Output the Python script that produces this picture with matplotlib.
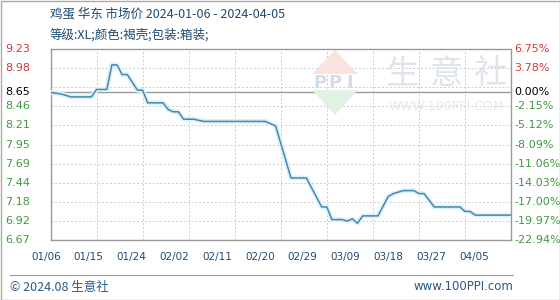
import matplotlib
matplotlib.use("Agg")
import matplotlib.pyplot as plt
import matplotlib.transforms as mtransforms
from matplotlib.patches import Polygon, Rectangle
import numpy as np
import pandas as pd

# price data (egg, East China)
start = pd.Timestamp("2024-01-06")
day_offsets = [0, 2, 3, 4, 8, 9, 11, 12, 13, 14, 15, 17, 18, 19, 22, 23, 24, 25,
               26, 28, 30, 42, 44, 47, 50, 53, 54, 55, 57, 58, 59, 60, 61, 64,
               66, 67, 69, 71, 72, 73, 75, 80, 81, 82, 83, 90]
prices = [8.65, 8.63, 8.61, 8.59, 8.59, 8.69, 8.69, 9.02, 9.02, 8.89, 8.89, 8.68,
          8.68, 8.51, 8.51, 8.42, 8.39, 8.39, 8.29, 8.29, 8.26, 8.26, 8.20, 7.50,
          7.50, 7.11, 7.11, 6.94, 6.94, 6.92, 6.95, 6.89, 6.99, 6.99, 7.25, 7.29,
          7.33, 7.33, 7.29, 7.29, 7.11, 7.11, 7.05, 7.05, 7.00, 7.00]
base_price = 8.65
pct_top = 6.75
pct_bottom = -22.94
x_labels = ["01/06", "01/15", "01/24", "02/02", "02/11", "02/20",
            "02/29", "03/09", "03/18", "03/27", "04/05"]

title1 = "鸡蛋 华东 市场价 2024-01-06 - 2024-04-05"
title2 = "等级:XL;颜色:褐壳;包装:箱装;"

plt.rcParams['font.family'] = ['DejaVu Sans', 'Noto Sans CJK SC']
cjk = ['Noto Sans CJK SC', 'DejaVu Sans']

W, H = 560, 300
fig = plt.figure(figsize=(W / 100, H / 100), dpi=100)
fig.patch.set_facecolor('white')

ax = fig.add_axes([50.5 / W, 1 - 240 / H, 460.5 / W, 191 / H])

ymin = base_price * (1 + pct_bottom / 100)
ymax = base_price * (1 + pct_top / 100)
grid_vals = np.linspace(ymin, ymax, 11)
grid_pcts = np.linspace(pct_bottom, pct_top, 11)

ax.set_xlim(0, 90)
ax.set_ylim(ymin, ymax)

# grid
for g in grid_vals[1:-1]:
    ax.axhline(g, color='#cccccc', lw=0.7, ls=(0, (2, 2)), zorder=1)
for d in range(9, 90, 9):
    ax.axvline(d, color='#cccccc', lw=0.7, ls=(0, (2, 2)), zorder=1)
ax.axhline(base_price, color='#999999', lw=1.0, zorder=2)

# watermark
def px(x, y):
    return (x / W, 1 - y / H)

fig.patches.append(Polygon([px(312, 74), px(335, 50), px(358, 74)], closed=True,
                           transform=fig.transFigure, facecolor='#f9e3e0', edgecolor='none', zorder=0))
fig.patches.append(Polygon([px(312, 90), px(358, 90), px(335, 115)], closed=True,
                           transform=fig.transFigure, facecolor='#e2f2e2', edgecolor='none', zorder=0))
for i, ch in enumerate("PPI"):
    fig.text((320 + 15 * i) / W, 1 - 83 / H, ch, color='#d4dcea', fontsize=13, fontweight='bold',
             ha='center', va='center', zorder=0)
for cx, ch in zip([402, 447, 490], "生意社"):
    fig.text(cx / W, 1 - 74 / H, ch, family=cjk, color='#e0e4eb', fontsize=24,
             ha='center', va='center', zorder=0)
fig.text(446 / W, 1 - 107 / H, "WWW.100PPI.COM", color='#e8e8e8', fontsize=9,
         ha='center', va='center', zorder=0)
ax.patch.set_alpha(0)

# price line
dates = [start + pd.Timedelta(days=d) for d in day_offsets]
xs = [(d - start).days for d in dates]
ax.plot(xs, prices, color='#dcf2fb', lw=3.5, zorder=3, solid_capstyle='butt')
ax.plot(xs, prices, color='#4a86ad', lw=1.1, zorder=4)

for s in ax.spines.values():
    s.set_color('#999999')
    s.set_linewidth(1.0)

ax.set_xticks([])
ax.set_yticks([])

blend = mtransforms.blended_transform_factory(ax.transAxes, ax.transData)

def label_colour(v):
    if abs(v - base_price) < 1e-9:
        return '#000000'
    return '#d03a3a' if v > base_price else '#3f9a3f'

# left / right labels
for v, p in zip(grid_vals, grid_pcts):
    if abs(v - base_price) < 0.1:
        v, p = base_price, 0.0
    col = label_colour(v)
    ax.text(-45.5 / 460.5, v, f"{v:.2f}", transform=blend,
            ha='left', va='center', fontsize=8, color=col)
    p_txt = np.trunc(p * 100) / 100
    ax.text(1 + 3 / 460.5, v, f"{p_txt:.2f}%", transform=blend,
            ha='left', va='center', fontsize=8, color=col)

# x labels
for k, lab in enumerate(x_labels):
    xc = (46 + 42.8 * k) / W
    fig.text(xc, 1 - 257 / H, lab, ha='center', va='center', fontsize=7.5, color='#1f4a78')

# titles
fig.text(50 / W, 1 - 14 / H, title1, family=cjk, fontsize=9, color='#1f4a70', ha='left', va='center')
fig.text(50 / W, 1 - 35 / H, title2, family=cjk, fontsize=9, color='#1f4a70', ha='left', va='center')

# footer
fig.add_artist(plt.Line2D([10 / W, 513 / W], [1 - 275 / H, 1 - 275 / H], color='#999999', lw=0.8))
fig.text(10 / W, 1 - 287 / H, "© 2024.08 生意社", family=cjk, fontsize=9, color='#2a5a88',
         ha='left', va='center')
fig.text(513 / W, 1 - 287 / H, "www.100PPI.com", fontsize=8.5, color='#2a5a88',
         ha='right', va='center')

# outer border
fig.patches.append(Rectangle((0.5 / W, 0.5 / H), 1 - 1 / W, 1 - 1 / H, transform=fig.transFigure,
                             fill=False, edgecolor='#aaaaaa', lw=1.0))

fig.savefig("out.png", dpi=100, facecolor='white')
